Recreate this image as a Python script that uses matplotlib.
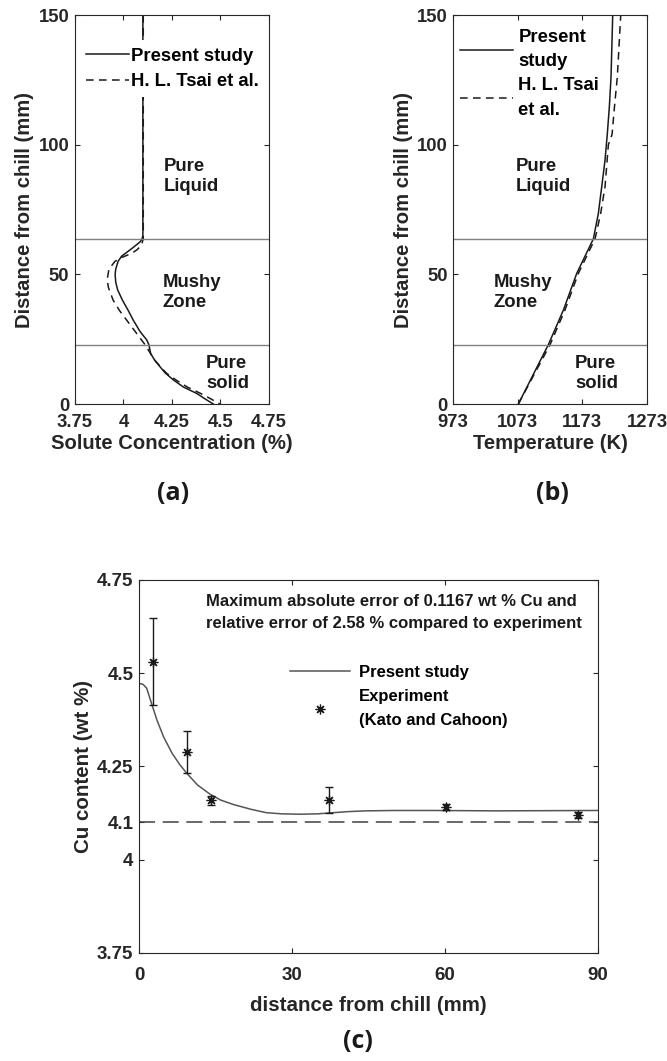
import matplotlib.pyplot as plt
from matplotlib.ticker import FixedLocator

plt.rcParams['font.family'] = ['Liberation Sans', 'DejaVu Sans']
plt.rcParams['font.weight'] = 'bold'
plt.rcParams['axes.labelweight'] = 'bold'

INK = '#262626'

# (a) solute concentration vs distance from chill
dist_a_present = [150, 65, 63.5, 62.5, 59.5, 57, 55, 52, 50, 47, 44, 40, 36, 32.4,
                  28, 24.7, 22.9, 19.5, 17, 14.4, 12, 9.3, 6.5, 4.1, 2, 0]
conc_present = [4.10, 4.10, 4.095, 4.085, 4.035, 3.99, 3.972, 3.960, 3.957, 3.960,
                3.970, 3.995, 4.025, 4.05, 4.085, 4.12, 4.131, 4.14, 4.16, 4.188,
                4.215, 4.257, 4.31, 4.377, 4.42, 4.463]
dist_a_tsai = [150, 64, 61.3, 59.5, 58.1, 56.5, 55, 52, 48, 45, 40, 36, 32.4, 29,
               26, 23, 20, 17, 14, 12, 9.3, 6.5, 4, 2, 0]
conc_tsai = [4.102, 4.102, 4.094, 4.07, 4.042, 3.99, 3.956, 3.925, 3.916, 3.922,
             3.947, 3.98, 4.016, 4.05, 4.08, 4.11, 4.135, 4.16, 4.195, 4.22, 4.27,
             4.33, 4.40, 4.45, 4.497]

# (b) temperature vs distance from chill
dist_b_present = [0, 22.9, 36.2, 50.4, 63.7, 73.5, 83.8, 94, 104.3, 114.6, 126.2, 150]
temp_present = [1074, 1120.4, 1143.6, 1164.3, 1190, 1197.7, 1202.9, 1208, 1211.6,
                1214.7, 1217.3, 1219.9]
dist_b_tsai = [0, 22.9, 36.2, 50.4, 63.7, 73.5, 83.8, 100, 104, 117, 126, 150]
temp_tsai = [1074, 1123, 1146, 1166.8, 1192.6, 1201.3, 1208, 1213.2, 1218.9,
             1223.5, 1227, 1232.3]

# zone boundaries (mm)
liquidus_pos = 63.7
solidus_pos = 22.9

# (c) Cu content along the casting
dist_c = [0, 0.8, 1.5, 2.2, 3.5, 4.8, 6.5, 8, 9.35, 11.5, 13.9, 16, 18.5, 22, 25,
          28, 31.5, 35, 38, 41, 44.5, 50, 57.6, 70, 90]
cu_present = [4.473, 4.47, 4.46, 4.43, 4.375, 4.33, 4.285, 4.255, 4.232, 4.20,
              4.176, 4.16, 4.148, 4.135, 4.126, 4.123, 4.122, 4.123, 4.126, 4.129,
              4.131, 4.132, 4.132, 4.131, 4.132]
exp_dist = [2.8, 9.35, 14.1, 37.2, 60.2, 86.0]
exp_cu = [4.531, 4.289, 4.16, 4.16, 4.142, 4.119]
exp_err = [0.117, 0.057, 0.012, 0.036, 0.008, 0.008]
nominal_cu = 4.1


def style_axes(ax, size=13.3, xpad=7.5):
    for s in ax.spines.values():
        s.set_color(INK)
        s.set_linewidth(0.8)
    ax.tick_params(direction='in', length=3.5, width=0.8, top=True, right=True,
                   colors=INK, labelsize=size, pad=4)
    ax.tick_params(axis='x', pad=xpad)
    for lab in ax.get_xticklabels() + ax.get_yticklabels():
        lab.set_fontweight('bold')


def zone_labels(ax, spots):
    for x, y, s in spots:
        ax.text(x, y, s, fontsize=13.3, va='center', ha='left', linespacing=1.25,
                color='#1a1a1a')


fig = plt.figure(figsize=(6.67, 10.61), dpi=100)

# ---- panel (a)
ax1 = fig.add_axes([0.1124, 0.6192, 0.2909, 0.3666])
ax1.plot(conc_present, dist_a_present, color='#1a1a1a', lw=1.1, label='Present study')
ax1.plot(conc_tsai, dist_a_tsai, color='#1a1a1a', lw=1.1, ls=(0, (5, 3.5)),
         label='H. L. Tsai et al.')
ax1.axhline(liquidus_pos, color='#808080', lw=1.0)
ax1.axhline(solidus_pos, color='#808080', lw=1.0)
ax1.set_xlim(3.75, 4.75)
ax1.set_ylim(0, 150)
ax1.set_xticks([3.75, 4, 4.25, 4.5, 4.75])
ax1.set_xticklabels(['3.75', '4', '4.25', '4.5', '4.75'])
ax1.set_yticks([0, 50, 100, 150])
ax1.set_xlabel('Solute Concentration (%)', fontsize=14.6, color=INK, labelpad=2)
ax1.set_ylabel('Distance from chill (mm)', fontsize=14.6, color=INK, labelpad=3)
style_axes(ax1)
leg1 = ax1.legend(loc='upper left', bbox_to_anchor=(0.02, 0.935), frameon=True,
                  facecolor='white', edgecolor='none', framealpha=1, fancybox=False,
                  fontsize=13.3, handlelength=2.3, handletextpad=0.15,
                  labelspacing=0.45, borderpad=0.4, borderaxespad=0)
zone_labels(ax1, [(4.209, 87.7, 'Pure\nLiquid'), (4.20, 43, 'Mushy\nZone'),
                  (4.425, 11.8, 'Pure\nsolid')])

# ---- panel (b)
ax2 = fig.add_axes([0.6792, 0.6192, 0.2909, 0.3666])
ax2.plot(temp_present, dist_b_present, color='#1a1a1a', lw=1.1,
         label='Present\nstudy')
ax2.plot(temp_tsai, dist_b_tsai, color='#1a1a1a', lw=1.1, ls=(0, (5, 3.5)),
         label='H. L. Tsai\net al.')
ax2.axhline(liquidus_pos, color='#808080', lw=1.0)
ax2.axhline(solidus_pos, color='#808080', lw=1.0)
ax2.set_xlim(973, 1273)
ax2.set_ylim(0, 150)
ax2.set_xticks([973, 1073, 1173, 1273])
ax2.set_yticks([0, 50, 100, 150])
ax2.set_xlabel('Temperature (K)', fontsize=14.6, color=INK, labelpad=2)
ax2.set_ylabel('Distance from chill (mm)', fontsize=14.6, color=INK, labelpad=3)
style_axes(ax2)
leg2 = ax2.legend(loc='upper left', bbox_to_anchor=(0.035, 0.965), frameon=False,
                  fontsize=13.3, handlelength=2.9, handletextpad=0.27,
                  labelspacing=0.35, borderpad=0, borderaxespad=0)
for t in leg2.get_texts():
    t.set_linespacing(1.6)
zone_labels(ax2, [(1070, 87.7, 'Pure\nLiquid'), (1035.4, 43, 'Mushy\nZone'),
                  (1161.7, 11.8, 'Pure\nsolid')])

# ---- panel (c)
ax3 = fig.add_axes([0.2084, 0.1018, 0.6882, 0.3516])
ax3.plot(dist_c, cu_present, color='#555555', lw=1.1, label='Present study')
ax3.errorbar(exp_dist, exp_cu, yerr=exp_err, fmt='none', ecolor='#1a1a1a',
             elinewidth=1.0, capsize=2.6, capthick=1.0)
ax3.plot(exp_dist, exp_cu, ls='none', marker=(8, 2, 0), ms=7, mec='#1a1a1a',
         mew=0.9, label='Experiment\n(Kato and Cahoon)')
ax3.axhline(nominal_cu, color='#404040', lw=1.1, ls=(0, (10.5, 5)))
ax3.set_xlim(0, 90)
ax3.set_ylim(3.75, 4.75)
ax3.set_xticks([0, 30, 60, 90])
ax3.yaxis.set_major_locator(FixedLocator([3.75, 4, 4.1, 4.25, 4.5, 4.75]))
ax3.set_yticklabels(['3.75', '4', '4.1', '4.25', '4.5', '4.75'])
ax3.set_xlabel('distance from chill (mm)', fontsize=14.8, color=INK, labelpad=9)
ax3.set_ylabel('Cu content (wt %)', fontsize=14.8, color=INK, labelpad=3)
style_axes(ax3, size=13.5, xpad=10)
ax3.text(13.1, 4.663, 'Maximum absolute error of 0.1167 wt % Cu and\n'
         'relative error of 2.58 % compared to experiment',
         fontsize=12, va='center', ha='left', linespacing=1.6, color='#1a1a1a')
leg3 = ax3.legend(loc='upper left', bbox_to_anchor=(0.33, 0.772), frameon=False,
                  fontsize=12, handlelength=3.6, handletextpad=0.5,
                  labelspacing=0.55, borderpad=0, borderaxespad=0)
for t in leg3.get_texts():
    t.set_linespacing(1.7)

# panel letters
for x, y, s in [(0.259, 0.535, '(a)'), (0.828, 0.535, '(b)'), (0.537, 0.018, '(c)')]:
    fig.text(x, y, s, fontsize=18, fontweight='bold', ha='center', va='center',
             family=['Open Sans', 'DejaVu Sans'], color='#1a1a1a')

fig.savefig('out.png', dpi=100)
